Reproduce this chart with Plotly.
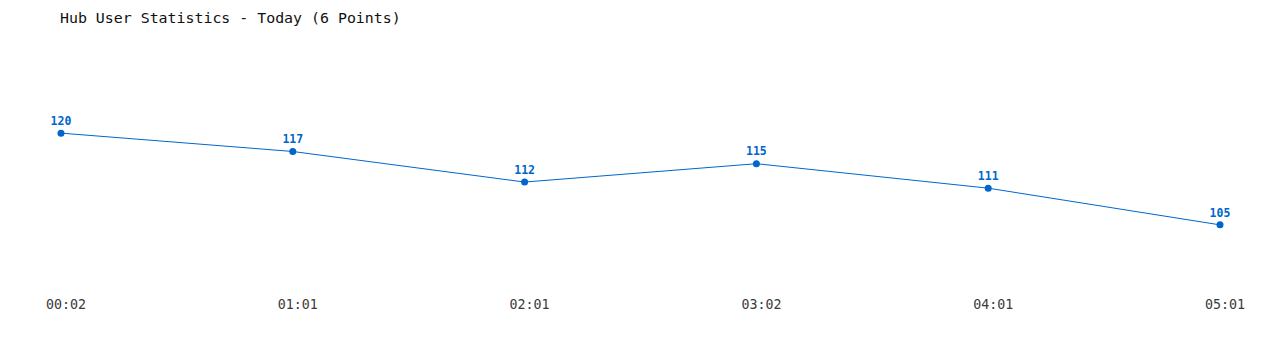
import plotly.graph_objects as go

times = ["00:02", "01:01", "02:01", "03:02", "04:01", "05:01"]
users = [120, 117, 112, 115, 111, 105]
title_text = "Hub User Statistics - Today (6 Points)"

FONT = "DejaVu Sans Mono"
BLUE = "#0066cc"

idx = list(range(len(times)))

fig = go.Figure()
fig.add_trace(go.Scatter(
    x=idx, y=users, mode="lines+markers+text",
    line=dict(color=BLUE, width=1),
    marker=dict(color=BLUE, size=7),
    text=[f"<b>{v}</b>" for v in users],
    textposition="top center",
    textfont=dict(family=FONT, size=11.5, color=BLUE),
    cliponaxis=False,
    hoverinfo="skip",
))

fig.update_layout(
    width=1280, height=350,
    margin=dict(l=61, r=60, t=72, b=64),
    paper_bgcolor="white", plot_bgcolor="white",
    showlegend=False,
    title=dict(text=title_text, x=60/1280, xanchor="left", y=1-18/350, yanchor="middle",
               font=dict(family=FONT, size=14.9, color="#111111")),
    xaxis=dict(range=[0, 5], tickmode="array", tickvals=idx, ticktext=times,
               showgrid=False, zeroline=False, showline=False,
               ticks="outside", ticklen=6, tickcolor="rgba(0,0,0,0)",
               ticklabelshift=5,
               tickfont=dict(family=FONT, size=13.3, color="#3a3a3a")),
    yaxis=dict(range=[95, 130], showgrid=False, zeroline=False, showline=False,
               showticklabels=False),
)

fig.write_html("out.html")
